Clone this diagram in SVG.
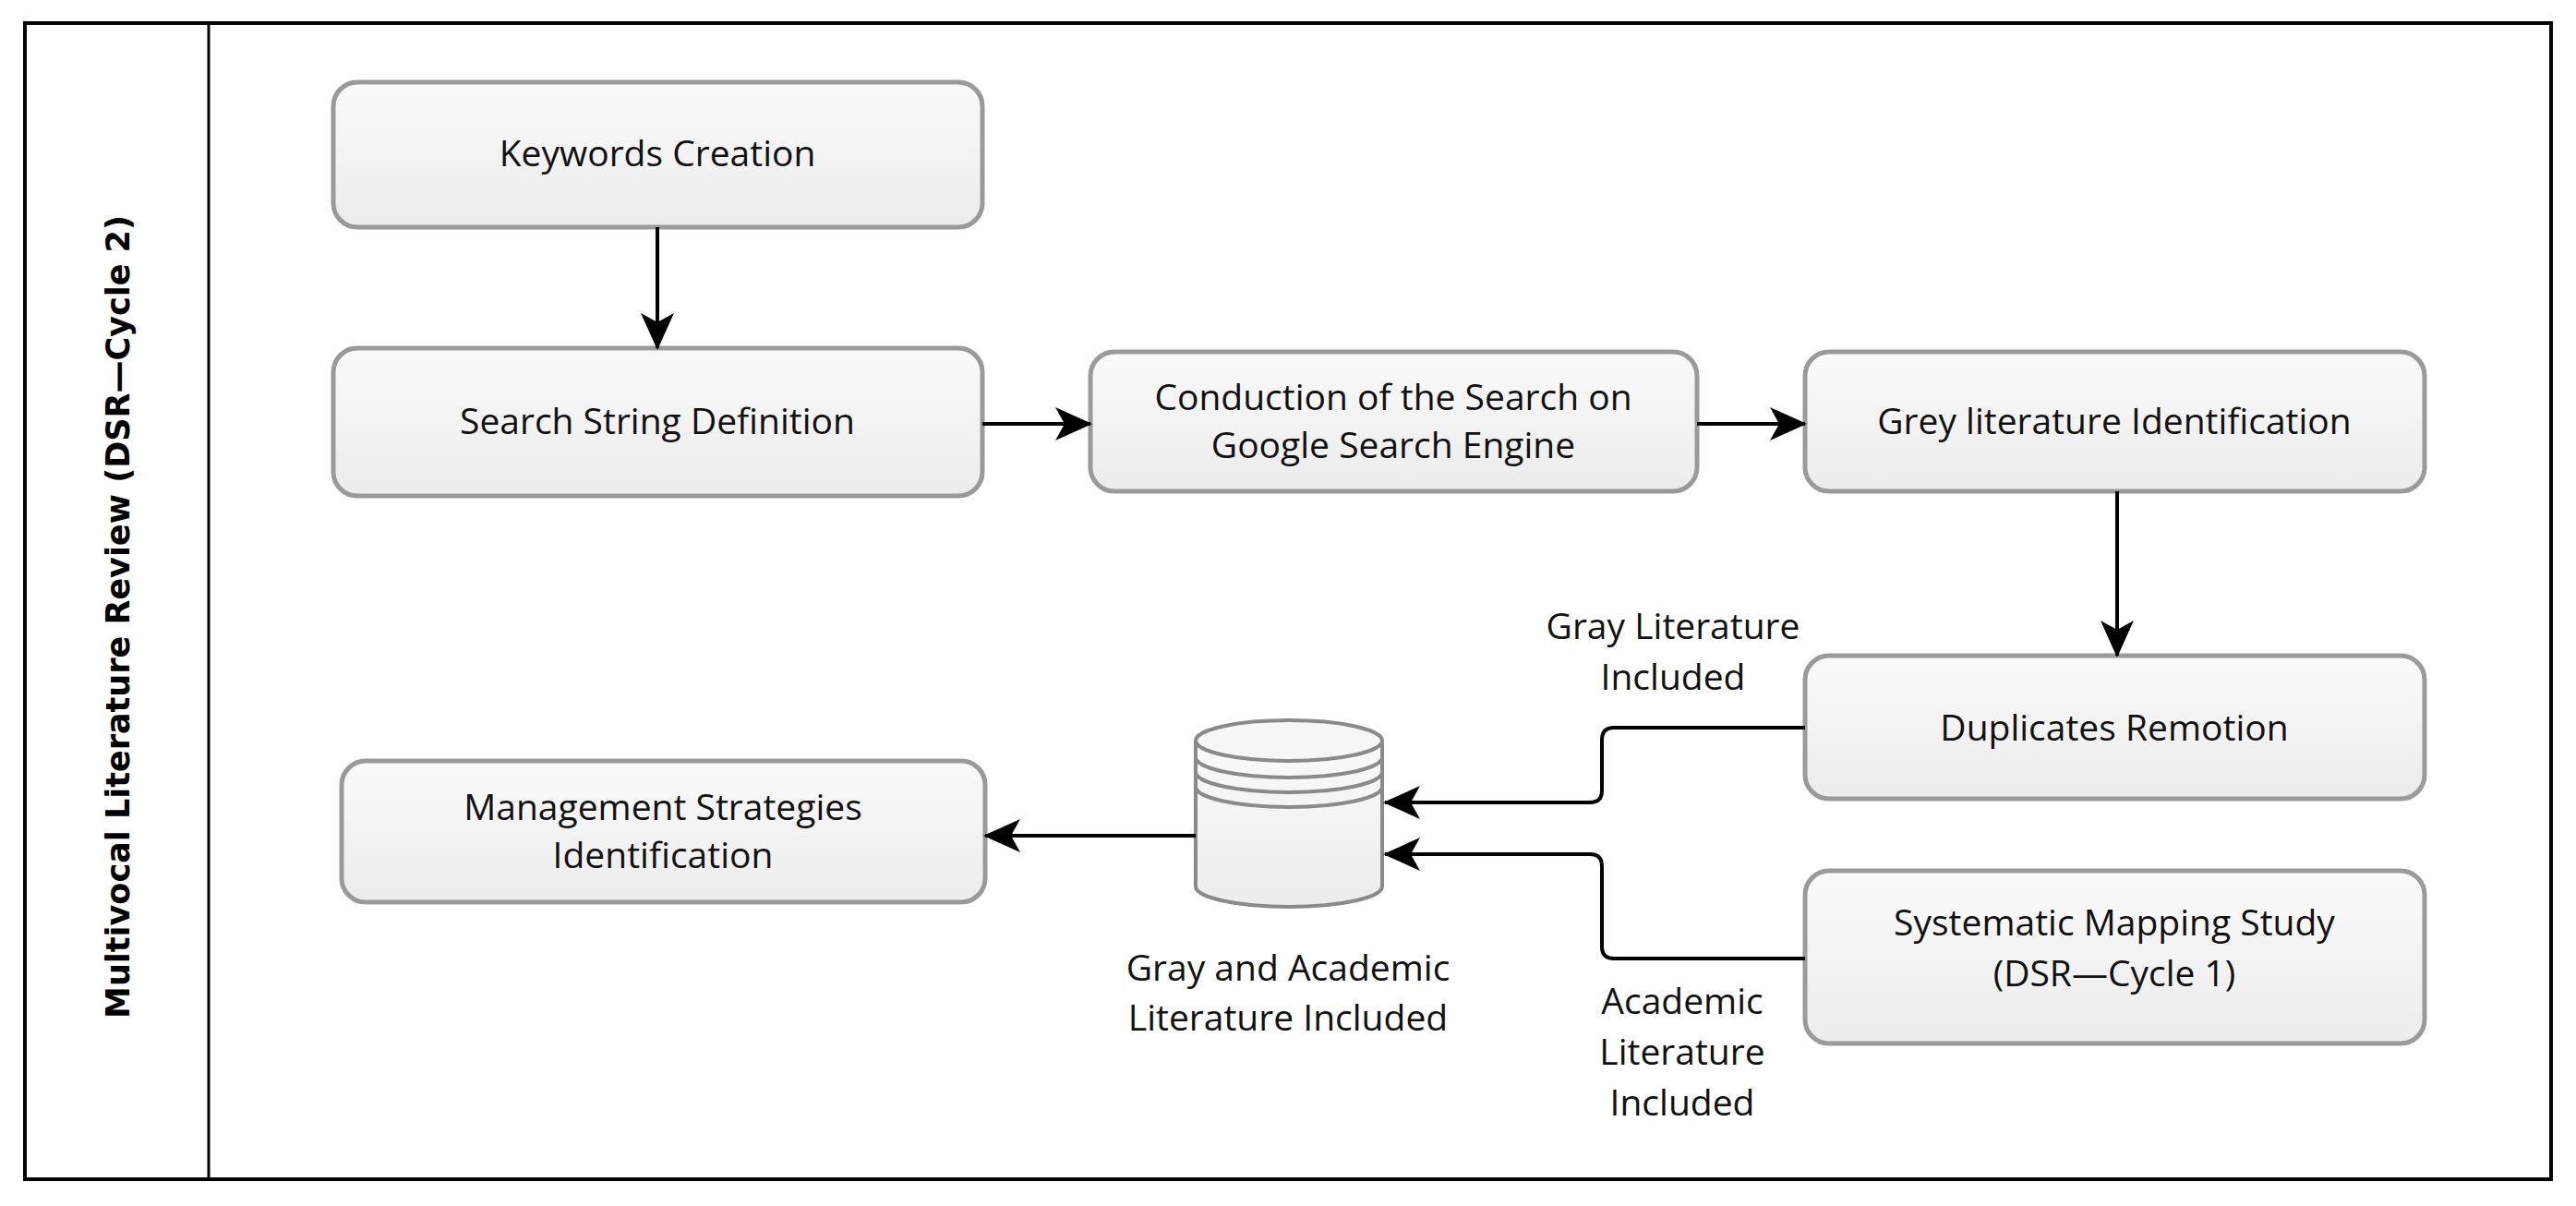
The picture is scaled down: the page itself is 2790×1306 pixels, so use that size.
<svg xmlns="http://www.w3.org/2000/svg" width="2790" height="1306" viewBox="0 0 2790 1306">
<style>
.box{fill:url(#g);stroke:#9a9a9a;stroke-width:5}
.t{font-family:"Open Sans","DejaVu Sans",sans-serif;font-size:39px;fill:#111;text-anchor:middle}
.c{fill:none;stroke:#000;stroke-width:4}
</style>
<defs>
<linearGradient id="g" x1="0" y1="0" x2="0" y2="1"><stop offset="0" stop-color="#fafafa"/><stop offset="1" stop-color="#ececec"/></linearGradient>
<marker id="a" markerWidth="40" markerHeight="36" refX="38" refY="18" orient="auto" markerUnits="userSpaceOnUse" viewBox="0 0 40 36">
<path d="M0,0 L40,18 L0,36 L10,18 Z" fill="#000"/></marker>
</defs>
<rect width="2790" height="1306" fill="#fff"/>
<rect x="27" y="25" width="2736" height="1252" fill="none" stroke="#000" stroke-width="4"/>
<line x1="226" y1="25" x2="226" y2="1277" stroke="#000" stroke-width="3"/>
<text transform="translate(140,668) rotate(-90)" font-family="'DejaVu Sans',sans-serif" font-weight="bold" font-size="35" text-anchor="middle">Multivocal Literature Review (DSR—Cycle 2)</text>
<g id="keywords"><rect class="box" x="361" y="89" width="703" height="157" rx="26"/><text class="t" x="712" y="180">Keywords Creation</text></g>
<g id="search"><rect class="box" x="361" y="377" width="703" height="160" rx="26"/><text class="t" x="712" y="470">Search String Definition</text></g>
<g id="conduction"><rect class="box" x="1181" y="381" width="657" height="151" rx="26"/><text class="t" x="1509" y="444">Conduction of the Search on</text><text class="t" x="1509" y="496">Google Search Engine</text></g>
<g id="grey"><rect class="box" x="1955" y="381" width="671" height="151" rx="26"/><text class="t" x="2290" y="470">Grey literature Identification</text></g>
<g id="duplicates"><rect class="box" x="1955" y="710" width="671" height="155" rx="26"/><text class="t" x="2290" y="802">Duplicates Remotion</text></g>
<g id="systematic"><rect class="box" x="1955" y="943" width="671" height="187" rx="26"/><text class="t" x="2290" y="1013">Systematic Mapping Study</text><text class="t" x="2290" y="1068">(DSR—Cycle 1)</text></g>
<g id="management"><rect class="box" x="370" y="824" width="697" height="153" rx="26"/><text class="t" x="718" y="888">Management Strategies</text><text class="t" x="718" y="940">Identification</text></g>
<g id="db">
<path d="M1295,802 L1295,960 A101,22 0 0 0 1497,960 L1497,802" fill="url(#g)" stroke="#8a8a8a" stroke-width="4"/>
<ellipse cx="1396" cy="802" rx="101" ry="22" fill="#f6f6f6" stroke="#8a8a8a" stroke-width="4"/>
<path d="M1295,820 A101,22 0 0 0 1497,820 M1295,836 A101,22 0 0 0 1497,836 M1295,852 A101,22 0 0 0 1497,852" fill="none" stroke="#8a8a8a" stroke-width="4"/>
<text class="t" x="1395" y="1062">Gray and Academic</text><text class="t" x="1395" y="1116">Literature Included</text>
</g>
<g id="connectors">
<line class="c" x1="712" y1="246" x2="712" y2="377" marker-end="url(#a)"/>
<line class="c" x1="1064" y1="459" x2="1181" y2="459" marker-end="url(#a)"/>
<line class="c" x1="1838" y1="459" x2="1955" y2="459" marker-end="url(#a)"/>
<line class="c" x1="2293" y1="532" x2="2293" y2="710" marker-end="url(#a)"/>
<path class="c" d="M1955,788 L1748,788 Q1735,788 1735,801 L1735,856 Q1735,869 1722,869 L1500,869" marker-end="url(#a)"/>
<path class="c" d="M1955,1038 L1748,1038 Q1735,1038 1735,1025 L1735,938 Q1735,925 1722,925 L1500,925" marker-end="url(#a)"/>
<line class="c" x1="1295" y1="905" x2="1067" y2="905" marker-end="url(#a)"/>
<text class="t" x="1812" y="692">Gray Literature</text><text class="t" x="1812" y="747">Included</text>
<text class="t" x="1822" y="1098">Academic</text><text class="t" x="1822" y="1153">Literature</text><text class="t" x="1822" y="1208">Included</text>
</g>
</svg>
